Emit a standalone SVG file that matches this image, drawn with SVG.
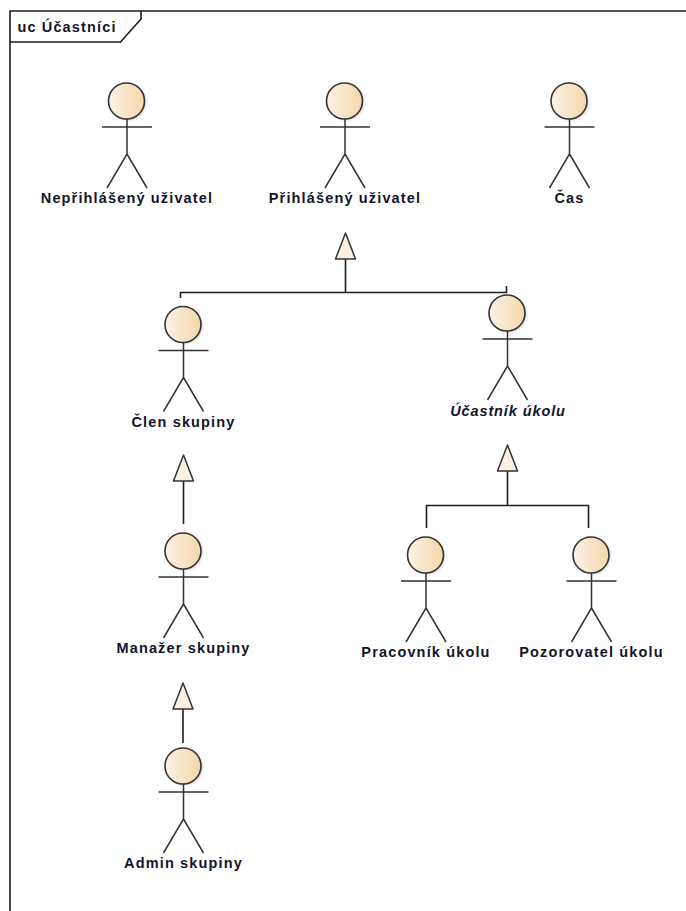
<svg xmlns="http://www.w3.org/2000/svg" width="686" height="911" viewBox="0 0 686 911">
<style>
text{font-family:"Liberation Sans",Arial,sans-serif;font-size:14.500px;font-weight:bold;fill:#14142a;text-anchor:middle;letter-spacing:1.150px}
.i{font-style:italic;letter-spacing:.9px}
.h{fill:url(#g);stroke:#333;stroke-width:1.6}
.s{fill:#999;opacity:.5;filter:url(#b)}
.l{fill:none;stroke:#333;stroke-width:1.5}
.c{fill:none;stroke:#1c1c1c;stroke-width:1.6}
.t{fill:#fbf1e3;stroke:#333;stroke-width:1.5;stroke-linejoin:round}
</style>
<defs>
<linearGradient id="g"><stop offset="0" stop-color="#fbf3e8"/><stop offset="1" stop-color="#f5d6a8"/></linearGradient>
<filter id="b" x="-20%" y="-20%" width="140%" height="140%"><feGaussianBlur stdDeviation="1"/></filter>
<g id="a"><circle class="s" cx="1" cy="1" r="18"/><circle class="h" cx="-.5" cy="0" r="18"/><path class="l" d="M-25 26H25M0 18V53L-20 87M0 53L20 87"/></g>
</defs>
<g id="frame"><path class="c" d="M686 11H10V911M10 42H120.500L141 19V11"/><text x="67" y="32">uc Účastníci</text></g>
<g id="connectors">
<path class="c" d="M345.500 259V292.500M180.500 298V292.500H506.500V286"/><path class="t" d="M345.500 233L335.500 259H355.500Z"/>
<path class="c" d="M507.500 471V505.500M426.500 528V505.500H588.500V528"/><path class="t" d="M507.500 445L497.500 471H517.500Z"/>
<path class="c" d="M183.500 481V524"/><path class="t" d="M183.500 455L173.500 481H193.500Z"/>
<path class="c" d="M183 709V743"/><path class="t" d="M183 683L173 709H193Z"/>
</g>
<g id="n1"><use href="#a" x="127" y="101"/><text x="127" y="203">Nepřihlášený uživatel</text></g>
<g id="n2"><use href="#a" x="345" y="101"/><text x="345" y="203">Přihlášený uživatel</text></g>
<g id="n3"><use href="#a" x="569.500" y="101"/><text x="569.500" y="203">Čas</text></g>
<g id="n4"><use href="#a" x="183.500" y="324.500"/><text x="183.500" y="427">Člen skupiny</text></g>
<g id="n5"><use href="#a" x="507.500" y="313"/><text class="i" x="508" y="416">Účastník úkolu</text></g>
<g id="n6"><use href="#a" x="183.500" y="551"/><text x="183.500" y="653">Manažer skupiny</text></g>
<g id="n7"><use href="#a" x="183.500" y="766"/><text x="183.500" y="868">Admin skupiny</text></g>
<g id="n8"><use href="#a" x="426" y="555"/><text x="426" y="657">Pracovník úkolu</text></g>
<g id="n9"><use href="#a" x="591.500" y="555"/><text x="591.500" y="657">Pozorovatel úkolu</text></g>
</svg>
